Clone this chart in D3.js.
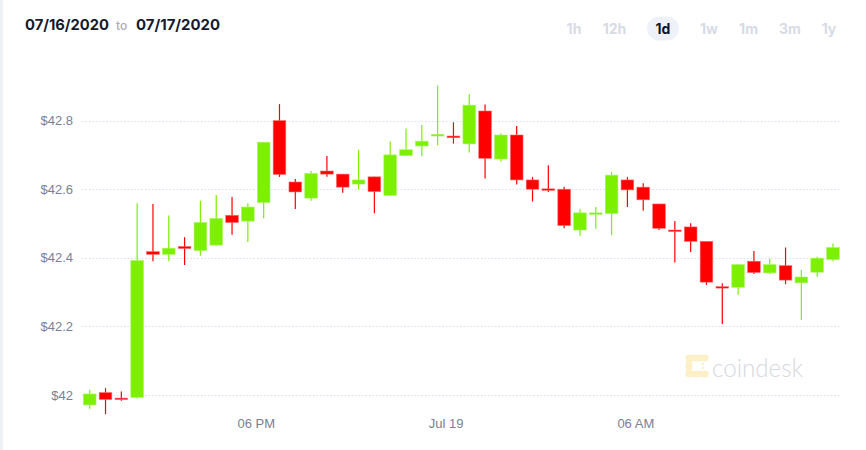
<!DOCTYPE html>
<html>
<head>
<meta charset="utf-8">
<script src="https://cdn.jsdelivr.net/npm/d3@7"></script>
<style>
  html, body { margin: 0; padding: 0; background: #fff; }
  svg { display: block; }
</style>
</head>
<body>
<svg id="chart" width="866" height="450"></svg>
<script>
// ---- data (30-minute candles) ----
const opens  = [41.971,42.007,41.991,41.993,42.418,42.410,42.433,42.421,42.437,42.524,42.507,42.561,
                42.800,42.621,42.574,42.653,42.644,42.615,42.636,42.582,42.698,42.726,42.755,42.755,
                42.732,42.828,42.688,42.758,42.627,42.601,42.600,42.481,42.528,42.529,42.627,42.606,
                42.557,42.481,42.490,42.448,42.316,42.314,42.390,42.356,42.377,42.327,42.358,42.395];
const highs  = [42.015,42.020,42.010,42.559,42.557,42.523,42.460,42.566,42.583,42.577,42.559,42.737,
                42.848,42.630,42.653,42.697,42.644,42.715,42.636,42.740,42.777,42.787,42.903,42.795,
                42.877,42.847,42.763,42.784,42.636,42.670,42.607,42.542,42.548,42.650,42.636,42.617,
                42.557,42.507,42.501,42.448,42.326,42.382,42.420,42.397,42.430,42.365,42.403,42.442];
const lows   = [41.960,41.944,41.983,41.990,42.390,42.390,42.379,42.406,42.435,42.467,42.446,42.515,
                42.636,42.542,42.566,42.636,42.590,42.600,42.530,42.580,42.697,42.696,42.728,42.733,
                42.707,42.631,42.680,42.614,42.564,42.592,42.486,42.464,42.485,42.466,42.548,42.537,
                42.481,42.386,42.417,42.321,42.207,42.292,42.353,42.353,42.323,42.219,42.345,42.390];
const closes = [42.003,41.987,41.989,42.392,42.410,42.428,42.427,42.503,42.515,42.503,42.548,42.737,
                42.643,42.592,42.646,42.644,42.606,42.627,42.593,42.700,42.715,42.740,42.760,42.750,
                42.845,42.690,42.758,42.627,42.600,42.598,42.494,42.531,42.531,42.641,42.598,42.569,
                42.486,42.479,42.448,42.329,42.314,42.380,42.357,42.380,42.335,42.344,42.399,42.430];
const yTicks = [42, 42.2, 42.4, 42.6, 42.8];
const xTickLabels = ["06 PM", "Jul 19", "06 AM"];
const rangeButtons = ["1h", "12h", "1d", "1w", "1m", "3m", "1y"];
const activeButton = "1d";
const dateFrom = "07/16/2020", dateTo = "07/17/2020";

const start = new Date(2020, 6, 18, 12, 30);
const step = 30 * 60 * 1000;
const candles = opens.map((o, i) => ({
  t: new Date(start.getTime() + i * step),
  o, h: highs[i], l: lows[i], c: closes[i]
}));
const xTickValues = [new Date(2020,6,18,18), new Date(2020,6,19,0), new Date(2020,6,19,6)];

const svg = d3.select("#chart");
const W = 866, H = 450;

// left border strip
svg.append("rect").attr("x", 0).attr("y", 0).attr("width", 3).attr("height", H).attr("fill", "#eef2f7");

const x = d3.scaleTime()
  .domain([start, new Date(start.getTime() + candles.length * step)])
  .range([81.8, 840.9]);
const y = d3.scaleLinear().domain([42, 42.8]).range([395, 120.6]);

// gridlines
svg.append("g").selectAll("line").data(yTicks).join("line")
  .attr("x1", 82).attr("x2", 841)
  .attr("y1", d => Math.round(y(d)) + 0.5).attr("y2", d => Math.round(y(d)) + 0.5)
  .attr("stroke", "#d9dfec").attr("stroke-width", 1).attr("stroke-dasharray", "1.5,2");

// y axis
const yAxis = d3.axisLeft(y).tickValues(yTicks).tickSize(0).tickPadding(0)
  .tickFormat(d => "$" + d);
const gy = svg.append("g").attr("transform", "translate(73,0)").call(yAxis);
gy.select(".domain").remove();
gy.selectAll("text").attr("font-family", "Liberation Sans, Arial, sans-serif")
  .attr("font-size", 13).attr("fill", "#7b8094");

// x axis
const xAxis = d3.axisBottom(x).tickValues(xTickValues).tickSize(0).tickPadding(0)
  .tickFormat((d, i) => xTickLabels[i]);
const gx = svg.append("g").attr("transform", "translate(0,419)").call(xAxis);
gx.select(".domain").remove();
gx.selectAll("text").attr("font-family", "Liberation Sans, Arial, sans-serif")
  .attr("font-size", 13).attr("fill", "#7b8094");

// watermark
const wm = svg.append("g").attr("transform", "translate(686,355)");
const wmc = "#fdefc6";
[[3,3],[11,3],[19,3],[3,11],[3,19],[11,19],[19,19]].forEach(p =>
  wm.append("circle").attr("cx", p[0]).attr("cy", p[1]).attr("r", 3.6).attr("fill", wmc));
wm.append("rect").attr("x", 0).attr("y", 0).attr("width", 22).attr("height", 6).attr("rx", 3).attr("fill", wmc);
wm.append("rect").attr("x", 0).attr("y", 0).attr("width", 6).attr("height", 22).attr("rx", 3).attr("fill", wmc);
wm.append("rect").attr("x", 0).attr("y", 16).attr("width", 22).attr("height", 6).attr("rx", 3).attr("fill", wmc);
[[17,9],[17,13]].forEach(p => wm.append("circle").attr("cx", p[0]).attr("cy", p[1]).attr("r", 1.3).attr("fill", wmc));
svg.append("text").attr("x", 712).attr("y", 377).text("coindesk")
  .attr("font-family", "Lato, Open Sans, sans-serif").attr("font-size", 25).attr("font-weight", 300)
  .attr("textLength", 91).attr("lengthAdjust", "spacingAndGlyphs")
  .attr("fill", "#d6d9e1");

// candles
const bw = (x(new Date(start.getTime() + step)) - x(start)) * 0.8;
const g = svg.append("g");
const up = "#7cf000", dn = "#ff0000";
const cg = g.selectAll("g").data(candles).join("g");
cg.append("line")
  .attr("x1", d => x(new Date(d.t.getTime() + step / 2)))
  .attr("x2", d => x(new Date(d.t.getTime() + step / 2)))
  .attr("y1", d => y(d.h)).attr("y2", d => y(d.l))
  .attr("stroke", d => d.c >= d.o ? up : dn).attr("stroke-width", 1.2);
cg.append("rect")
  .attr("x", d => x(new Date(d.t.getTime() + step / 2)) - bw / 2)
  .attr("width", bw)
  .attr("y", d => y(Math.max(d.o, d.c)))
  .attr("height", d => Math.max(1.5, Math.abs(y(d.o) - y(d.c))))
  .attr("fill", d => d.c >= d.o ? up : dn)
  .attr("stroke", d => d.c >= d.o ? "#a8f560" : "#ff6a6a").attr("stroke-width", 0.6);

// header
const hf = "Inter, sans-serif";
svg.append("text").attr("x", 25).attr("y", 30).text(dateFrom)
  .attr("font-family", hf).attr("font-size", 15).attr("font-weight", 700).attr("fill", "#161a2e")
  .attr("textLength", 84).attr("lengthAdjust", "spacingAndGlyphs");
svg.append("text").attr("x", 116).attr("y", 30).text("to")
  .attr("font-family", hf).attr("font-size", 12).attr("font-weight", 500).attr("fill", "#a9acb8");
svg.append("text").attr("x", 136).attr("y", 30).text(dateTo)
  .attr("font-family", hf).attr("font-size", 15).attr("font-weight", 700).attr("fill", "#161a2e")
  .attr("textLength", 84).attr("lengthAdjust", "spacingAndGlyphs");

const btnX = [574, 614.5, 663, 709, 748.5, 790, 829];
const bg = svg.append("g");
rangeButtons.forEach((b, i) => {
  if (b === activeButton) {
    bg.append("rect").attr("x", btnX[i] - 16).attr("y", 16.5).attr("width", 32).attr("height", 24)
      .attr("rx", 12).attr("fill", "#eef2f8");
  }
  bg.append("text").attr("x", btnX[i]).attr("y", 33.5).attr("text-anchor", "middle")
    .attr("font-family", hf).attr("font-size", 14).attr("font-weight", 700)
    .attr("fill", b === activeButton ? "#11142a" : "#d7dbe5").text(b);
});
</script>
</body>
</html>
